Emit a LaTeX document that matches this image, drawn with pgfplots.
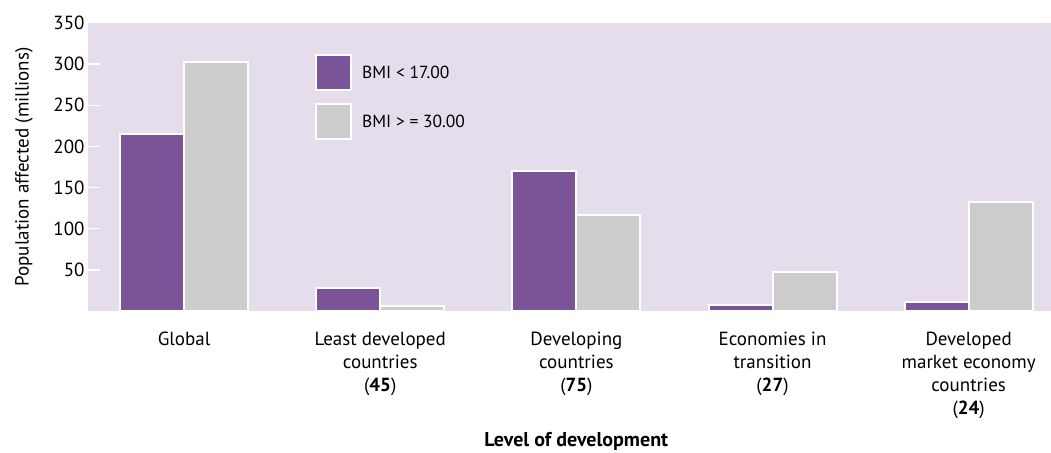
\documentclass[border=0pt]{standalone}
\usepackage{fontspec}
\setmainfont{PT Sans}
\usepackage{pgfplots}
\pgfplotsset{compat=1.18}
\definecolor{bmilow}{HTML}{7B5399}
\definecolor{bmihigh}{HTML}{CCCCCC}
\definecolor{panel}{HTML}{E5DDEC}

\pgfplotstableread{
x low high
0 215 302
1 28 6
2 170 117
3 7 48
4 10.5 132
}\bmidata

\begin{document}
\begin{tikzpicture}
  \begin{axis}[
    name=ax, at={(0,0)}, anchor=south west,
    scale only axis,
    width=963pt, height=288pt,
    xmin=-0.49, xmax=4.42,
    ymin=0, ymax=350,
    ybar=0pt, bar width=64pt,
    axis background/.style={fill=panel},
    axis line style={draw=none},
    xtick={0,1,2,3,4},
    xticklabels={
      Global,
      {Least developed\\countries\\(\textbf{45})},
      {Developing\\countries\\(\textbf{75})},
      {Economies in\\transition\\(\textbf{27})},
      {Developed\\market economy\\countries\\(\textbf{24})}},
    xtick style={draw=none},
    xticklabel style={align=center, anchor=north, inner sep=0pt, yshift=-21pt,
      font=\fontsize{19}{23}\selectfont},
    ytick={50,100,...,300},
    extra y ticks={350},
    extra y tick style={major tick length=0pt},
    ytick pos=left, tick align=inside,
    major tick length=12pt,
    ytick style={white, line width=1.5pt},
    yticklabel style={font=\fontsize{19}{23}\selectfont},
    /pgf/number format/assume math mode=true,
    xlabel={\textbf{Level of development}},
    xlabel style={at={(axis description cs:0.507,0)}, anchor=north, inner sep=0pt,
      yshift=-121pt, font=\fontsize{20}{23}\selectfont},
    ylabel={Population affected (millions)},
    ylabel style={at={(axis description cs:-0.0665,0.5)}, anchor=center,
      inner sep=0pt, font=\fontsize{19}{23}\selectfont},
    legend image code/.code={\draw[#1, draw=white, line width=2pt] (0pt,-17pt) rectangle (35pt,18pt);},
    legend style={draw=none, fill=none, inner sep=0pt,
      at={(0.2357,0.892)}, anchor=north west,
      row sep=12pt, font=\fontsize{17.5}{20}\selectfont,
      nodes={inner sep=0pt, anchor=west},
      /tikz/every odd column/.append style={column sep=10pt}},
  ]
    \addplot[fill=bmilow, draw=white, line width=2pt] table[x=x, y=low] {\bmidata};
    \addlegendentry{BMI < 17.00}
    \addplot[fill=bmihigh, draw=white, line width=2pt] table[x=x, y=high] {\bmidata};
    \addlegendentry{BMI > = 30.00}
  \end{axis}
  \pgfresetboundingbox
  \useasboundingbox (-88pt,-141pt) rectangle (963pt,311pt);
\end{tikzpicture}
\end{document}
